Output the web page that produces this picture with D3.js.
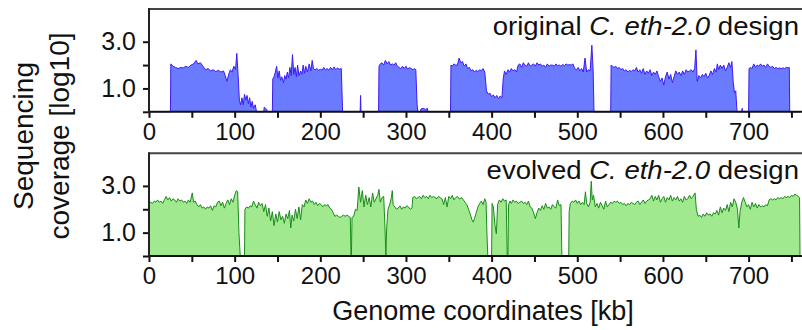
<!DOCTYPE html>
<html>
<head>
<meta charset="utf-8">
<script src="https://cdn.jsdelivr.net/npm/d3@7"></script>
<style>
  html, body { margin: 0; padding: 0; background: #fff; }
  svg { display: block; font-family: "Liberation Sans", Arial, Helvetica, sans-serif; }
</style>
</head>
<body>
<svg id="chart" width="802" height="330"></svg>
<script>
// ---------- data ----------
const majorTicks = [0, 100, 200, 300, 400, 500, 600, 700];
const minorTicks = [50, 150, 250, 350, 450, 550, 650, 750];
const yTicks = [0, 1, 2, 3];
const yLabels = ["", "1.0", "", "3.0"];

const origKb = [0, 25, 25.5, 28, 31, 34, 37, 40, 43, 46, 49, 52, 55, 57, 60, 63, 66, 69, 72, 75, 78, 81, 84, 87, 89, 91, 93, 95, 97, 99, 101, 102.5, 104, 105.5, 107, 108.5, 110, 111.5, 113, 114.5, 116, 117.5, 119, 120.5, 122, 124, 125.5,
  134, 134.5, 136, 137.5, 138, 144, 144.5, 146, 147.5, 149, 150.5, 152, 153.5, 155, 157, 158.5, 160, 161.5, 163, 164.5, 166, 167.5, 169, 170.5, 172, 173.5, 175, 177, 178.5, 180, 181.5, 183, 185, 187, 189, 190.5, 192, 194, 196, 198, 200, 202, 204, 206, 208, 210, 212, 214, 216, 218, 220, 222, 224.5, 226,
  246.5, 247, 247.5, 268, 268.5, 270, 272, 274, 276, 278, 280, 282, 284, 286, 288, 290, 292, 294, 296, 298, 300, 302, 304, 306, 308, 310, 311.5, 313, 314, 317, 317.5, 320, 323, 325, 325.5,
  352, 352.5, 354, 356, 358, 360, 362, 364, 366, 368, 370, 372, 374, 376, 378, 380, 382, 384, 386, 388, 390, 392, 394, 396, 398, 400, 402, 404, 406, 408, 410, 412, 413.5, 415, 417, 419, 421, 423, 425, 427, 429, 431, 433, 435, 437, 439, 441, 443, 445, 447, 449, 451, 453, 455, 457, 459, 461, 463, 465, 467, 469, 471, 473, 475, 477, 479, 481, 483, 485, 487, 489, 491, 493, 495, 497, 499, 501, 503, 505, 507, 509, 511, 513, 515, 517, 518.5, 519.5,
  539, 539.5, 541, 543, 545, 547, 549, 551, 553, 555, 557, 559, 561, 563, 565, 567, 569, 571, 573, 575, 577, 579, 581, 583, 585, 587, 589, 591, 593, 595, 597, 599, 601, 603, 605, 607, 609, 611, 613, 615, 617, 619, 621, 623, 625, 627, 629, 631, 633, 635, 637, 638.5, 640, 642, 644, 646, 648, 650, 652, 654, 656, 658, 660, 662, 663.5, 665, 667, 669, 671, 673, 675, 677, 679, 680.5, 682, 683.5, 685, 686.5,
  692, 692.5, 693, 700, 700.5, 702, 704, 706, 708, 710, 712, 714, 716, 718, 720, 722, 724, 726, 728, 730, 732, 734, 736, 738, 740, 742, 744, 746, 747.5, 748, 760];
const origCov = [0, 0, 2.05, 1.95, 1.9, 1.85, 1.9, 1.88, 1.95, 1.9, 2.0, 2.05, 2.2, 2.05, 2.1, 1.95, 1.8, 1.85, 1.75, 1.8, 1.72, 1.78, 1.7, 1.75, 1.55, 1.3, 1.6, 1.8, 1.7, 1.95, 1.8, 2.5, 1.6, 0.5, 0.3, 0.6, 0.3, 0.75, 0.5, 0.7, 0.35, 0.6, 0.2, 0.45, 0.15, 0.3, 0,
  0, 0.2, 0.15, 0.1, 0, 0, 1.4, 1.5, 1.7, 1.95, 1.45, 1.75, 1.35, 1.5, 1.25, 1.55, 1.4, 1.7, 1.45, 1.9, 1.55, 2.45, 1.6, 1.9, 1.5, 2.0, 1.55, 1.75, 1.6, 2.0, 1.65, 1.95, 1.7, 2.05, 1.75, 2.2, 1.85, 1.8, 1.85, 1.78, 1.82, 1.78, 1.9, 1.8, 1.85, 1.78, 1.9, 1.8, 1.92, 1.8, 1.88, 1.82, 1.85, 0,
  0, 0.7, 0, 0, 1.95, 2.05, 2.1, 2.0, 2.2, 2.05, 2.15, 2.0, 2.05, 2.0, 2.1, 1.95, 1.9, 1.85, 1.95, 1.85, 1.95, 1.82, 1.9, 1.85, 1.8, 1.85, 1.8, 0.3, 0, 0, 0.12, 0.15, 0.1, 0.15, 0,
  0, 2.0, 1.95, 2.05, 2.0, 2.0, 2.3, 2.1, 2.15, 1.95, 2.05, 1.85, 1.9, 1.75, 1.8, 1.7, 1.78, 1.72, 1.8, 1.75, 1.85, 1.7, 0.9, 0.75, 0.8, 0.65, 0.72, 0.6, 0.7, 0.55, 0.68, 0.6, 1.4, 1.75, 1.6, 1.8, 1.7, 1.85, 1.75, 1.8, 1.7, 2.0, 2.05, 1.9, 2.1, 2.0, 1.95, 2.1, 1.95, 2.0, 2.05, 1.95, 2.1, 2.0, 2.05, 1.95, 2.0, 1.9, 2.05, 1.95, 2.0, 2.0, 1.95, 2.05, 1.98, 2.0, 1.95, 2.02, 1.98, 2.05, 2.0, 2.02, 2.0, 2.05, 1.85, 1.8, 1.9, 1.75, 1.85, 1.7, 2.3, 1.7, 1.8, 1.75, 2.85, 1.8, 0,
  0, 2.0, 1.95, 1.9, 1.95, 1.85, 1.9, 1.8, 1.85, 1.75, 1.8, 1.7, 1.78, 1.72, 1.8, 1.75, 1.9, 1.7, 1.8, 1.65, 1.85, 1.6, 1.75, 1.65, 1.8, 1.55, 1.7, 1.6, 1.75, 1.5, 1.3, 1.45, 1.15, 1.5, 1.7, 1.4, 1.6, 1.25, 1.5, 1.75, 1.6, 1.7, 1.55, 1.75, 1.6, 1.8, 1.7, 1.75, 1.8, 1.7, 1.85, 2.65, 1.3, 1.55, 1.45, 1.6, 1.5, 1.65, 1.45, 1.55, 1.75, 1.6, 1.85, 1.7, 2.05, 1.8, 2.0, 1.85, 2.0, 1.75, 1.9, 2.1, 1.9, 2.15, 1.3, 0.8, 0.9, 0,
  0, 0.15, 0, 0, 1.85, 1.9, 1.85, 2.05, 1.9, 2.0, 1.95, 2.05, 1.95, 2.0, 1.9, 2.05, 1.95, 1.9, 1.95, 1.85, 1.9, 1.85, 1.88, 1.85, 1.88, 1.85, 1.9, 1.88, 1.9, 0, 0];

const evolKb = [0, 2, 4, 6, 8, 10, 12, 14, 16, 18, 20, 22, 24, 26, 28, 30, 32, 34, 36, 38, 40, 42, 44, 46, 48, 50.5, 52, 54, 56, 58, 60, 62, 64, 66, 68, 70, 72, 74, 76, 78, 80, 82, 84, 86, 88, 90, 92, 94, 96, 98, 100, 102, 103.5, 105, 106.5,
  111.5, 112, 114, 116, 118, 120, 122, 124, 126, 128, 130, 132, 134, 136, 138, 140, 142, 144, 146, 148, 150, 152, 154, 156, 158, 160, 162, 164, 165.5, 167, 169, 171, 173, 175, 177, 179, 181, 183, 185, 187, 189, 191, 193, 195, 197, 199, 201, 203, 205, 207, 209, 211, 213, 215, 217, 219, 221, 223, 225, 227, 229, 231, 233, 235, 235.8, 236.3,
  237, 239, 241, 243, 245, 247, 249, 251, 253, 255, 257, 259, 261, 263, 265, 267, 268.5, 270, 272, 274, 275.5, 276.5, 277.5, 279, 281, 283, 284, 285, 287, 289, 291, 293, 295, 297, 299, 301, 303, 305, 307, 308, 310, 312, 314, 316, 318, 320, 322, 324, 326, 328, 330, 332, 334, 336, 338, 340, 342, 344, 346, 348, 350, 352, 354, 356, 358, 360, 362,
  363, 365, 367, 369, 371, 373, 375, 377, 378.5, 380, 382, 384, 386, 388, 390, 392, 393.5, 394.5, 395.5, 400, 400.5, 402, 404, 405.5, 407, 409, 411, 413, 415, 417, 418.2, 419, 419.8, 421.5, 423, 425, 427, 429, 431, 433, 435, 437, 439, 441, 443, 445, 447, 449, 451, 453, 455, 457, 459, 461, 463, 465, 467, 469, 471, 473, 475, 477, 479, 481, 482, 490,
  490.5, 492, 494, 496, 498, 500, 502, 504, 506, 508, 509.5, 511, 513, 515, 516.3, 517.5, 519, 521, 523, 525, 527, 529, 531, 533, 535, 537, 539, 541, 543, 545, 547, 549, 551, 553, 555, 557, 559, 561, 563, 565, 567, 569, 571, 573, 575, 577, 579, 581, 583, 585, 587, 589, 591, 593, 595, 597, 599, 601, 603, 605, 607, 609, 611, 613, 615, 617, 619, 621, 623, 625, 627, 629, 631, 633, 635, 637.5, 639, 641, 643, 645, 647, 649, 651, 653, 655, 657, 659, 661, 663, 665, 667, 669, 671, 673, 675, 677, 679, 681, 683, 685, 687, 688.6, 690, 692, 694, 696, 698, 700, 702, 704, 706, 708, 710, 712, 714, 716, 718, 720, 722, 724, 726, 728, 730, 732, 734, 736, 738, 740, 742, 744, 746, 748, 750, 752, 754, 756, 758, 759.5, 760];
const evolCov = [2.25, 2.3, 2.25, 2.35, 2.3, 2.4, 2.3, 2.35, 2.25, 2.4, 2.55, 2.4, 2.5, 2.35, 2.45, 2.4, 2.3, 2.45, 2.35, 2.4, 2.3, 2.35, 2.25, 2.4, 2.3, 2.7, 2.3, 2.35, 2.2, 2.1, 2.2, 2.05, 2.1, 2.0, 2.1, 2.05, 2.15, 1.95, 2.15, 2.1, 2.3, 2.35, 2.15, 2.3, 2.05, 2.25, 2.4, 2.2, 2.45, 2.3, 2.6, 2.8, 2.75, 1.0, 0,
  0, 2.0, 2.1, 2.05, 2.15, 2.1, 2.35, 2.2, 2.05, 2.3, 2.15, 2.25, 1.9, 2.2, 1.7, 2.05, 1.5, 1.9, 1.3, 1.8, 1.45, 1.9, 1.55, 1.7, 1.4, 1.8, 1.6, 1.95, 1.2, 1.75, 1.5, 2.0, 1.6, 2.1, 1.55, 2.2, 2.1, 2.4, 2.25, 2.45, 2.3, 2.35, 2.2, 2.3, 2.15, 2.25, 2.2, 2.1, 2.2, 2.15, 2.2, 2.05, 2.0, 1.85, 1.7, 1.75, 1.7, 1.65, 1.7, 1.75, 1.7, 1.75, 1.7, 1.65, 0, 0,
  1.65, 1.7, 2.0, 1.95, 2.95, 2.3, 2.8, 2.1, 2.6, 2.2, 2.5, 2.1, 2.7, 2.3, 2.45, 2.6, 2.85, 2.3, 2.5, 2.55, 1.2, 0, 1.2, 2.0, 2.2, 2.5, 2.8, 2.2, 2.1, 2.0, 2.05, 2.15, 2.0, 2.1, 2.05, 2.15, 2.1, 2.0, 2.05, 2.5, 2.55, 2.45, 2.5, 2.55, 2.45, 2.6, 2.5, 2.55, 2.45, 2.6, 2.5, 2.55, 2.5, 2.45, 2.55, 2.5, 2.45, 2.2, 2.5, 2.1, 2.55, 2.45, 2.6, 2.4, 2.5, 2.55, 2.45,
  2.45, 2.5, 2.4, 2.3, 2.2, 2.0, 1.8, 1.55, 1.45, 1.6, 1.85, 2.1, 2.25, 2.35, 2.2, 2.45, 2.3, 1.0, 0, 0, 2.25, 2.1, 1.3, 0.95, 2.2, 2.4, 2.3, 2.45, 2.35, 2.4, 0, 0, 2.2, 2.35, 2.25, 2.4, 2.3, 2.35, 2.25, 2.3, 2.35, 2.25, 2.3, 2.2, 2.35, 2.1, 2.05, 1.85, 1.6, 1.85, 2.05, 1.95, 2.15, 2.0, 2.25, 2.05, 2.1, 2.0, 2.2, 2.1, 2.05, 2.4, 2.15, 2.2, 0, 0,
  1.9, 2.25, 2.35, 2.3, 2.4, 2.25, 2.35, 2.2, 2.3, 2.2, 2.75, 2.25, 2.1, 2.3, 3.2, 2.4, 2.6, 2.1, 2.25, 2.05, 2.3, 2.15, 2.0, 2.35, 2.1, 2.2, 2.3, 2.25, 2.35, 2.3, 2.35, 2.25, 2.3, 2.2, 2.25, 2.15, 2.25, 2.2, 2.3, 2.25, 2.2, 2.3, 2.35, 2.2, 2.3, 2.4, 2.25, 2.35, 2.4, 2.45, 2.6, 2.35, 2.55, 2.4, 2.6, 2.3, 2.45, 2.55, 2.3, 2.5, 2.4, 2.6, 2.35, 2.5, 2.4, 2.55, 2.35, 2.45, 2.3, 2.55, 2.4, 2.45, 2.6, 2.45, 2.55, 2.7, 2.0, 1.7, 1.75, 1.65, 1.8, 1.7, 1.85, 1.75, 1.8, 1.7, 1.85, 1.8, 1.95, 1.75, 2.1, 1.85, 2.05, 1.95, 2.2, 1.9, 2.3, 2.1, 2.45, 2.3, 2.0, 1.2, 1.9, 2.3, 2.5, 2.3, 2.1, 2.2, 2.0, 2.3, 2.1, 2.25, 2.05, 2.2, 2.1, 2.15, 2.1, 2.2, 2.15, 2.4, 2.45, 2.4, 2.45, 2.4, 2.5, 2.45, 2.5, 2.45, 2.55, 2.5, 2.55, 2.5, 2.6, 2.55, 2.65, 2.6, 2.55, 2.5, 0];

const panels = [
  { kb: origKb, cov: origCov, label: ["original ", "C. eth-2.0", " design"], fill: "#6a7bff", stroke: "#3c1cf5" },
  { kb: evolKb, cov: evolCov, label: ["evolved ", "C. eth-2.0", " design"], fill: "#a0e98e", stroke: "#1a8c1a" }
];

// ---------- layout ----------
const svg = d3.select("#chart");
const x = d3.scaleLinear().domain([0, 760]).range([149, 800]);
const panelTops = [9, 153.2];
const panelH = 102.8;
const yMax = 4.4;

panels.forEach((p, i) => {
  const top = panelTops[i], bottom = top + panelH;
  const y = d3.scaleLinear().domain([0, yMax]).range([bottom, top]);
  const g = svg.append("g");
  const pts = p.kb.map((k, j) => [k, p.cov[j]]);

  g.append("path").datum(pts)
    .attr("fill", p.fill)
    .attr("d", d3.area().x(d => x(d[0])).y0(y(0)).y1(d => y(d[1])));
  g.append("path").datum(pts)
    .attr("fill", "none").attr("stroke", p.stroke).attr("stroke-width", 1)
    .attr("stroke-linejoin", "round")
    .attr("d", d3.line().x(d => x(d[0])).y(d => y(d[1])));

  // top frame line
  g.append("line").attr("x1", 149).attr("x2", 802).attr("y1", top).attr("y2", top)
    .attr("stroke", "#444").attr("stroke-width", 2);

  // x axis major
  const xa = g.append("g").attr("transform", `translate(0,${bottom})`)
    .call(d3.axisBottom(x).tickValues(majorTicks).tickSize(6).tickPadding(5).tickFormat(d3.format("d")));
  xa.select(".domain").remove();
  xa.selectAll(".tick line").attr("stroke", "#111").attr("stroke-width", 2);
  xa.selectAll("text").attr("font-size", 24).attr("fill", "#111").attr("font-family", null);
  const xm = g.append("g").attr("transform", `translate(0,${bottom})`)
    .call(d3.axisBottom(x).tickValues(minorTicks).tickSize(6).tickFormat(""));
  xm.select(".domain").remove();
  xm.selectAll(".tick line").attr("stroke", "#111").attr("stroke-width", 2);
  g.append("line").attr("x1", 148).attr("x2", 802).attr("y1", bottom).attr("y2", bottom)
    .attr("stroke", "#111").attr("stroke-width", 2);

  // y axis
  const ya = g.append("g").attr("transform", "translate(149,0)")
    .call(d3.axisLeft(y).tickValues(yTicks).tickSize(6).tickPadding(7).tickFormat((d, k) => yLabels[k]));
  ya.select(".domain").remove();
  ya.selectAll(".tick line").attr("stroke", "#111").attr("stroke-width", 2);
  ya.selectAll("text").attr("font-size", 25).attr("fill", "#111").attr("font-family", null);
  g.append("line").attr("x1", 149).attr("x2", 149).attr("y1", top - 1).attr("y2", bottom + 1)
    .attr("stroke", "#222").attr("stroke-width", 2);

  // annotation (slightly widened like the reference lettering)
  const t = g.append("text").attr("transform", `translate(799,${top + 26}) scale(1.06,1)`)
    .attr("text-anchor", "end").attr("font-size", 26).attr("fill", "#111");
  t.append("tspan").text(p.label[0]);
  t.append("tspan").attr("font-style", "italic").text(p.label[1]);
  t.append("tspan").text(p.label[2]);
});

// axis titles
svg.append("text").attr("x", 483).attr("y", 320).attr("text-anchor", "middle")
  .attr("font-size", 27).attr("fill", "#111").text("Genome coordinates [kb]");
const yt = svg.append("text").attr("transform", "translate(33,136) rotate(-90)")
  .attr("text-anchor", "middle").attr("font-size", 28).attr("fill", "#111");
yt.append("tspan").attr("x", 0).attr("y", 0).text("Sequencing");
yt.append("tspan").attr("x", 0).attr("y", 36).text("coverage [log10]");
</script>
</body>
</html>
